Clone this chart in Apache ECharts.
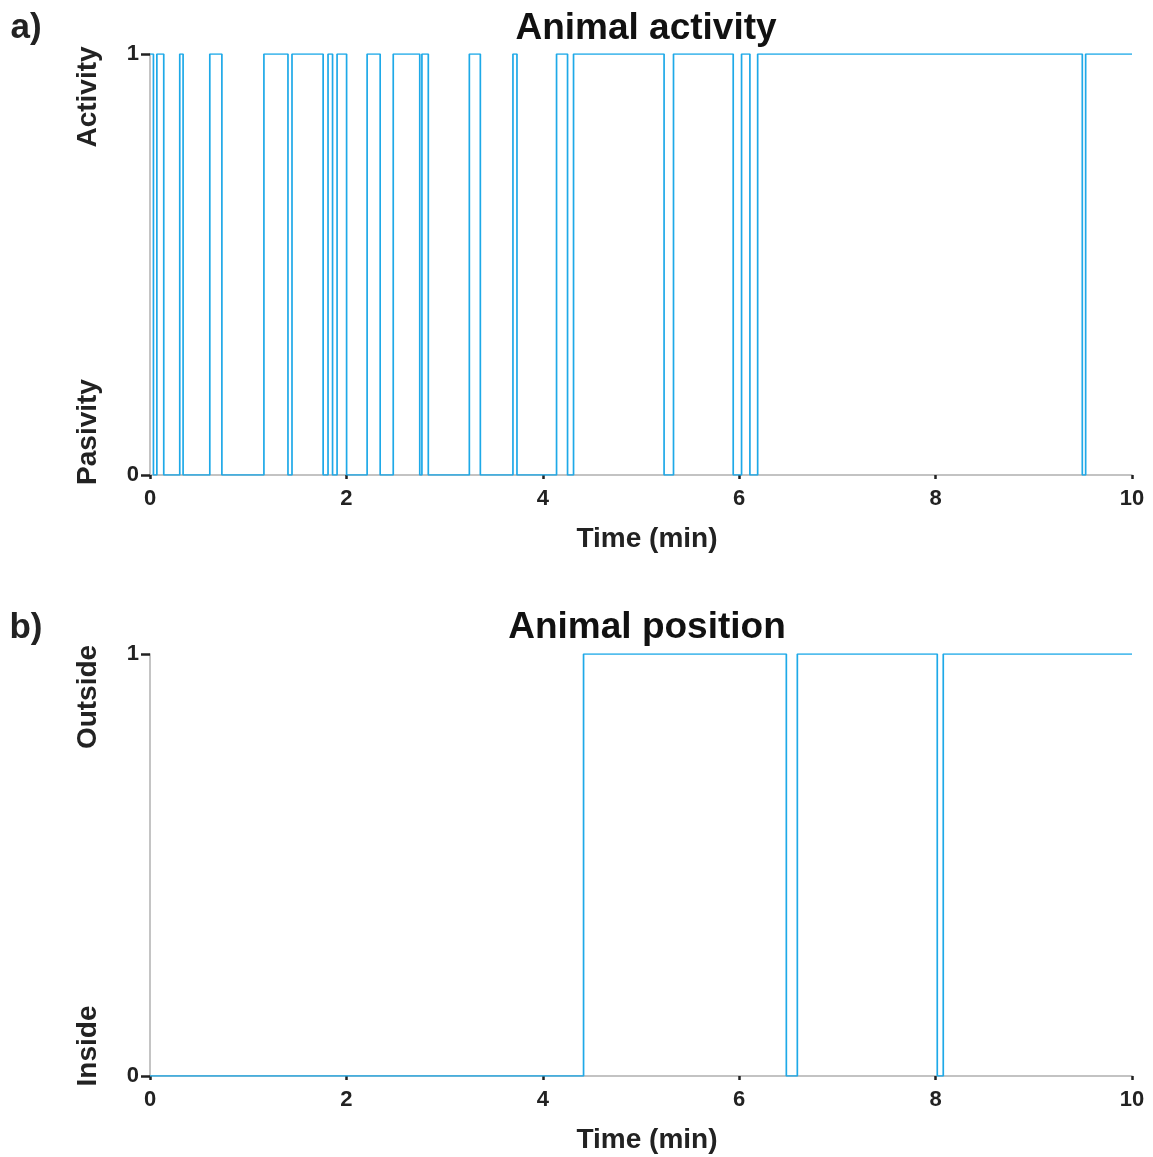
<!DOCTYPE html>
<html>
<head>
<meta charset="utf-8">
<script src="https://cdn.jsdelivr.net/npm/echarts@6/dist/echarts.min.js"></script>
<style>
  body { margin: 0; background: #fff; }
  #chart { width: 1153px; height: 1157px; }
</style>
</head>
<body>
<div id="chart"></div>
<script>
// activity: time (min) where the state changes, and the state from that time on
var activityTimes = [0, 0.035, 0.07, 0.14, 0.303, 0.337, 0.609, 0.732, 1.160, 1.405,
  1.446, 1.763, 1.813, 1.859, 1.905, 2.002, 2.211, 2.344, 2.477, 2.747,
  2.769, 2.834, 3.252, 3.364, 3.696, 3.737, 4.140, 4.252, 4.313, 5.235,
  5.331, 5.939, 6.024, 6.109, 6.188, 9.494, 9.528, 10];
var activityStates = [1, 0, 1, 0, 1, 0, 1, 0, 1, 0,
  1, 0, 1, 0, 1, 0, 1, 0, 1, 0,
  1, 0, 1, 0, 1, 0, 1, 0, 1, 0,
  1, 0, 1, 0, 1, 0, 1, 1];

// position: 0 = inside, 1 = outside
var positionTimes = [0, 4.415, 6.480, 6.592, 8.017, 8.078, 10];
var positionStates = [0, 1, 0, 1, 0, 1, 1];

var xTicks = [0, 2, 4, 6, 8, 10];

var font = "'Liberation Sans', Arial, sans-serif";
var lineColor = "#1ea9e8";
var dark = "#222";

function zip(xs, ys) {
  return xs.map(function (x, i) {
    return [x, ys[i]];
  });
}

function xAxisOpt(idx) {
  return {
    gridIndex: idx,
    type: "value",
    min: xTicks[0],
    max: xTicks[xTicks.length - 1],
    interval: 2,
    name: "Time (min)",
    nameLocation: "middle",
    nameGap: 50,
    nameTextStyle: { fontFamily: font, fontWeight: "bold", fontSize: 28, color: dark, padding: [0, 0, 0, 12] },
    axisLine: { lineStyle: { color: "#b0b0b0", width: 1.5 } },
    axisTick: { show: true, length: 4, lineStyle: { color: dark, width: 2.5 } },
    axisLabel: { fontFamily: font, fontWeight: "bold", fontSize: 22, color: dark, margin: 13 },
    splitLine: { show: false },
  };
}

function yAxisOpt(idx) {
  return {
    gridIndex: idx,
    type: "value",
    min: 0,
    max: 1,
    interval: 1,
    axisLine: { show: true, lineStyle: { color: "#b0b0b0", width: 1.5 } },
    axisTick: { show: true, length: 9, lineStyle: { color: dark, width: 2.5 } },
    axisLabel: { fontFamily: font, fontWeight: "bold", fontSize: 22, color: dark, margin: 11 },
    splitLine: { show: false },
  };
}

function label(text, x, y, size, rotate) {
  return {
    type: "text",
    x: x,
    y: y,
    rotation: rotate ? Math.PI / 2 : 0,
    style: {
      text: text,
      fontFamily: font,
      fontWeight: "bold",
      fontSize: size,
      fill: dark,
      textAlign: "center",
      textVerticalAlign: "middle",
    },
  };
}

var chart = echarts.init(document.getElementById("chart"));
chart.setOption({
  animation: false,
  backgroundColor: "#fff",
  title: [
    { text: "Animal activity", left: 641, top: 5, textAlign: "center",
      textStyle: { fontFamily: font, fontWeight: "bold", fontSize: 37, color: "#111" } },
    { text: "Animal position", left: 642, top: 604, textAlign: "center",
      textStyle: { fontFamily: font, fontWeight: "bold", fontSize: 37, color: "#111" } },
  ],
  grid: [
    { left: 150, right: 21, top: 54, height: 421 },
    { left: 150, right: 21, top: 654, height: 422 },
  ],
  xAxis: [xAxisOpt(0), xAxisOpt(1)],
  yAxis: [yAxisOpt(0), yAxisOpt(1)],
  series: [
    {
      type: "line",
      xAxisIndex: 0,
      yAxisIndex: 0,
      step: "end",
      symbol: "none",
      lineStyle: { color: lineColor, width: 1.7 },
      data: zip(activityTimes, activityStates),
    },
    {
      type: "line",
      xAxisIndex: 1,
      yAxisIndex: 1,
      step: "end",
      symbol: "none",
      lineStyle: { color: lineColor, width: 1.7 },
      data: zip(positionTimes, positionStates),
    },
  ],
  graphic: [
    label("a)", 26, 28, 35, false),
    label("b)", 26, 628, 35, false),
    label("Activity", 88, 97, 28, true),
    label("Pasivity", 88, 432, 28, true),
    label("Outside", 88, 697, 28, true),
    label("Inside", 88, 1046, 28, true),
  ],
});
</script>
</body>
</html>
